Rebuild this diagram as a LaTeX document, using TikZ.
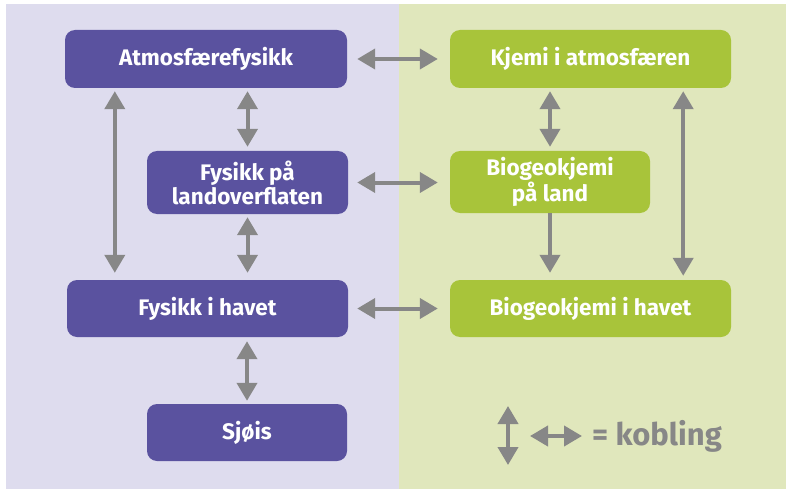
\documentclass[tikz,border=0pt]{standalone}
\usepackage{fontspec}
\setmainfont{Fira Sans}
\usetikzlibrary{arrows.meta}
\definecolor{pbg}{HTML}{DEDCEE}
\definecolor{gbg}{HTML}{E0E7BC}
\definecolor{pbox}{HTML}{5A529F}
\definecolor{gbox}{HTML}{A8C43A}
\definecolor{arrgray}{HTML}{878787}
\tikzset{
  box/.style={rectangle, rounded corners=10pt, inner sep=0pt, align=center,
    text=white, font=\fontsize{22.5}{24}\selectfont\bfseries},
  pb/.style={box, fill=pbox},
  gb/.style={box, fill=gbox},
  dbl/.style={draw=arrgray, line width=4pt, {Triangle[width=20pt,length=18pt]}-{Triangle[width=20pt,length=18pt]}},
  sgl/.style={draw=arrgray, line width=4pt, -{Triangle[width=20pt,length=18pt]}},
}
\begin{document}
\begin{tikzpicture}[x=1pt,y=-1pt]
\useasboundingbox (0,0) rectangle (786,489);
\fill[white] (0,0) rectangle (786,489);
\fill[pbg] (6,4) rectangle (399,489);
\fill[gbg] (399,4) rectangle (786,489);
% boxes
\node[pb, minimum width=282pt, minimum height=58pt] (atm) at (206,59) {Atmosfærefysikk};
\node[pb, minimum width=201pt, minimum height=63pt] (land) at (247.5,182.5) {Fysikk på\\landoverflaten};
\node[pb, minimum width=281pt, minimum height=57pt] (hav) at (207.5,308.5) {Fysikk i havet};
\node[pb, minimum width=200pt, minimum height=57pt] (sjo) at (247,432.5) {Sjøis};
\node[gb, minimum width=281pt, minimum height=58pt] (kje) at (590.5,59) {Kjemi i atmosfæren};
\node[gb, minimum width=200pt, minimum height=62pt] (bland) at (550,182) {Biogeokjemi\\på land};
\node[gb, minimum width=281pt, minimum height=57pt] (bhav) at (590.5,308.5) {Biogeokjemi i havet};
% horizontal couplings
\draw[dbl, shorten <=10pt, shorten >=12pt] (atm.east) -- (kje.west);
\draw[dbl, shorten <=9pt, shorten >=12pt] (land.east) -- (land.east -| bland.west);
\draw[dbl, shorten <=9pt, shorten >=12pt] (hav.east) -- (bhav.west);
% vertical couplings left
\draw[dbl] ([xshift=50pt,yshift=-3pt]atm.south west) -- ([xshift=48pt,yshift=7pt]hav.north west);
\draw[dbl] ([yshift=-3pt]atm.south -| land.north) -- ([yshift=4pt]land.north);
\draw[dbl] ([yshift=-3pt]land.south) -- ([yshift=7pt]land.south |- hav.north);
\draw[dbl] ([yshift=-4pt]hav.south -| sjo.north) -- ([yshift=3pt]sjo.north);
% vertical couplings right
\draw[dbl] ([yshift=-3pt]kje.south -| bland.north) -- ([yshift=4pt]bland.north);
\draw[sgl] (bland.south) -- ([yshift=7pt]bland.south |- bhav.north);
\draw[dbl] ([xshift=-48pt,yshift=-3pt]kje.south east) -- ([xshift=-48pt,yshift=4pt]bhav.north east);
% legend
\coordinate (lv1) at (508,406);
\coordinate (lv2) at (508,465);
\coordinate (lh1) at (530,436);
\coordinate (lh2) at (582,436);
\draw[dbl] (lv1) -- (lv2);
\draw[dbl] (lh1) -- (lh2);
\node[anchor=west, inner sep=0pt, text=arrgray, font=\fontsize{31}{34}\selectfont\bfseries] (leg) at (592,436) {= kobling};
\end{tikzpicture}
\end{document}
